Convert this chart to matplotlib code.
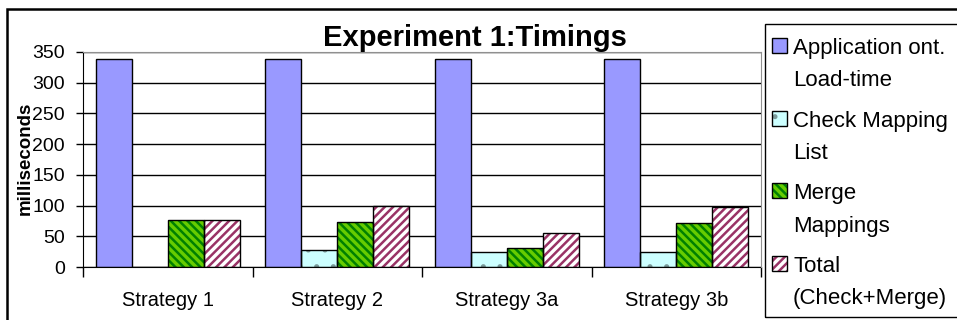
import numpy as np
import matplotlib
matplotlib.use("Agg")
import matplotlib.pyplot as plt
from matplotlib.patches import Rectangle

plt.rcParams['font.family'] = ['Liberation Sans', 'DejaVu Sans']

# data
strategies = ["Strategy 1", "Strategy 2", "Strategy 3a", "Strategy 3b"]
app_load = [338, 338, 338, 338]
check_list = [0, 27, 24, 25]
merge_map = [76, 74, 31, 72]
total = [76, 99, 56, 97]

series_labels = ["Application ont.\nLoad-time", "Check Mapping\nList",
                 "Merge\nMappings", "Total\n(Check+Merge)"]
series_values = [app_load, check_list, merge_map, total]
# (face, hatch colour, hatch, hatch width)
series_styles = [("#9999FF", "#9999FF", "", 1.0),
                 ("#CCFFFF", "#7A9A9A", ".", 1.2),
                 ("#66CC00", "#008000", "\\\\\\\\", 1.8),
                 ("#FFFFFF", "#993366", "////", 1.8)]

W, H = 957, 320
fig = plt.figure(figsize=(W / 100, H / 100), dpi=100)
ax = fig.add_axes([83 / W, 1 - 267 / H, (761 - 83) / W, (267 - 52) / H])

x = np.arange(len(strategies))
w = 0.213
for i, (vals, (fc, hc, hatch, hlw)) in enumerate(zip(series_values, series_styles)):
    pos = x + (i - 1.5) * w
    with plt.rc_context({'hatch.linewidth': hlw}):
        ax.bar(pos, vals, w, facecolor=fc, edgecolor=hc, hatch=hatch, linewidth=0, zorder=2)
    ax.bar(pos, vals, w, facecolor="none", edgecolor="black", linewidth=1, zorder=3)

ax.set_xlim(-0.5, len(strategies) - 0.5)
ax.set_ylim(0, 350)
ax.set_yticks(np.arange(0, 351, 50))
ax.tick_params(axis='y', labelsize=14, direction='out', length=5, width=1, pad=8)
ax.yaxis.grid(True, color='black', linewidth=1)
ax.set_axisbelow(True)

ax.set_xticks(np.arange(-0.5, len(strategies), 1.0))
ax.set_xticklabels([])
ax.tick_params(axis='x', which='major', direction='out', length=7, width=1)
ax.set_xticks(x, minor=True)
ax.set_xticklabels(strategies, minor=True, fontsize=14.5)
ax.tick_params(axis='x', which='minor', length=0, pad=17)

for s in ['left', 'bottom']:
    ax.spines[s].set_color('black')
for s in ['top', 'right']:
    ax.spines[s].set_color('#909090')
    ax.spines[s].set_zorder(4)

fig.text(25 / W, 1 - 158 / H, "milliseconds", rotation=90, fontsize=13.5,
         fontweight='bold', ha='center', va='center')
fig.text(475 / W, 1 - 38 / H, "Experiment 1:Timings", fontsize=21,
         fontweight='bold', ha='center', va='center')

# outer chart frame
fig.add_artist(Rectangle((7 / W, -0.05), 1.0, 1 - 9 / H + 0.05, transform=fig.transFigure,
                         fill=False, edgecolor='black', linewidth=1.8))

# legend box
fig.add_artist(Rectangle((765 / W, 1 - 317 / H), 200 / W, (317 - 24) / H,
                         transform=fig.transFigure, fill=False, edgecolor='black', linewidth=1))
for i, (lab, (fc, hc, hatch, hlw)) in enumerate(zip(series_labels, series_styles)):
    top = 38 + 72.6 * i
    with plt.rc_context({'hatch.linewidth': hlw}):
        fig.add_artist(Rectangle((772 / W, 1 - (top + 15) / H), 15 / W, 15 / H,
                                 transform=fig.transFigure, facecolor=fc, edgecolor=hc,
                                 hatch=hatch, linewidth=0))
    fig.add_artist(Rectangle((772 / W, 1 - (top + 15) / H), 15 / W, 15 / H,
                             transform=fig.transFigure, fill=False, edgecolor='black',
                             linewidth=1))
    for j, line in enumerate(lab.split("\n")):
        base = 54 + 72.6 * i + 32.5 * j
        fig.text(793 / W, 1 - base / H, line, fontsize=16, ha='left', va='baseline')

fig.savefig("out.png", dpi=100)
